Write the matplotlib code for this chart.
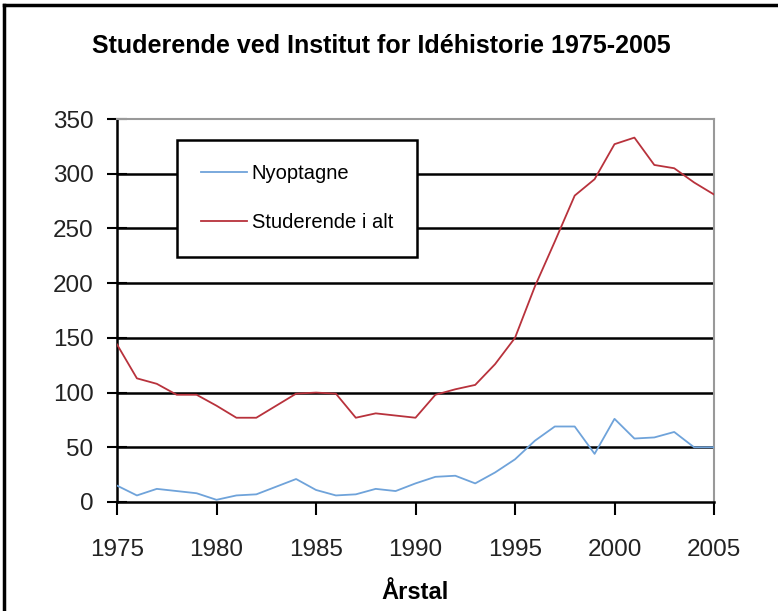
import matplotlib
matplotlib.use("Agg")
import matplotlib.pyplot as plt
from matplotlib.lines import Line2D

years = list(range(1975, 2006))
nyoptagne = [15, 6, 12, 10, 8, 2, 6, 7, 14, 21, 11, 6, 7, 12, 10,
             17, 23, 24, 17, 27, 39, 56, 69, 69, 44, 76, 58, 59, 64, 50, 50]
studerende = [144, 113, 108, 98, 98, 88, 77, 77, 88, 99, 100, 99, 77, 81, 79,
              77, 98, 103, 107, 126, 150, 197, 238, 280, 295, 327, 333, 308, 305, 292, 281]
yticks = [0, 50, 100, 150, 200, 250, 300, 350]
xticks = [1975, 1980, 1985, 1990, 1995, 2000, 2005]
title = "Studerende ved Institut for Idéhistorie 1975-2005"
xlabel = "Årstal"
labels = ["Nyoptagne", "Studerende i alt"]

font = "Liberation Sans"
W, H = 778, 611
fig = plt.figure(figsize=(W / 100, H / 100), dpi=100)
fig.patch.set_facecolor("white")

# plot area in pixels: left 117, right 714, top 119, bottom 502
ax = fig.add_axes([117 / W, 1 - 502 / H, (714 - 117) / W, (502 - 119) / H])
ax.set_xlim(1975, 2005)
ax.set_ylim(0, 350)

for y in yticks[1:-1]:
    ax.axhline(y, color="black", lw=1.8, zorder=1)

blue = "#6FA3DA"
red = "#B8323C"
ax.plot(years, nyoptagne, color=blue, lw=1.3, zorder=3)
ax.plot(years, studerende, color=red, lw=1.3, zorder=3)

ax.set_xticks(xticks)
ax.set_yticks(yticks)
ax.set_xticklabels([str(x) for x in xticks], fontsize=17.5, family=font)
ax.set_yticklabels([str(y) for y in yticks], fontsize=17.5, family=font)
ax.tick_params(axis="x", direction="out", length=9, width=1.5, pad=18, colors="black")
ax.tick_params(axis="y", direction="inout", length=14, width=1.5, pad=10, colors="black")
ax.tick_params(axis="both", labelcolor="#222222")

for s in ["left", "bottom"]:
    ax.spines[s].set_color("black")
    ax.spines[s].set_linewidth(1.8)
for s in ["top", "right"]:
    ax.spines[s].set_color("#999999")
    ax.spines[s].set_linewidth(1.5)

ax.set_xlabel(xlabel, fontsize=17, fontweight="bold", family=font, labelpad=14)

handles = [Line2D([], [], color=blue, lw=1.3), Line2D([], [], color=red, lw=1.3)]
leg = ax.legend(handles, labels, loc="upper left",
                bbox_to_anchor=((177 - 117) / (714 - 117), 1 - (140 - 119) / (502 - 119)),
                prop={"family": font, "size": 14.5}, frameon=True, fancybox=False,
                handlelength=2.3, handletextpad=0.2, labelspacing=1.5,
                borderpad=1.2, borderaxespad=0, framealpha=1, edgecolor="black")
leg.get_frame().set_linewidth(1.8)
leg.set_zorder(5)

fig.text(381 / W, 1 - 46 / H, title, ha="center", va="center",
         fontsize=18, fontweight="bold", family=font)

# outer chart frame (top and left edges visible)
fig.add_artist(Line2D([4 / W, 1], [1 - 5 / H, 1 - 5 / H], transform=fig.transFigure,
                      color="black", lw=2.5))
fig.add_artist(Line2D([4 / W, 4 / W], [0, 1 - 5 / H], transform=fig.transFigure,
                      color="black", lw=2.5))

fig.savefig("out.png", dpi=100)
